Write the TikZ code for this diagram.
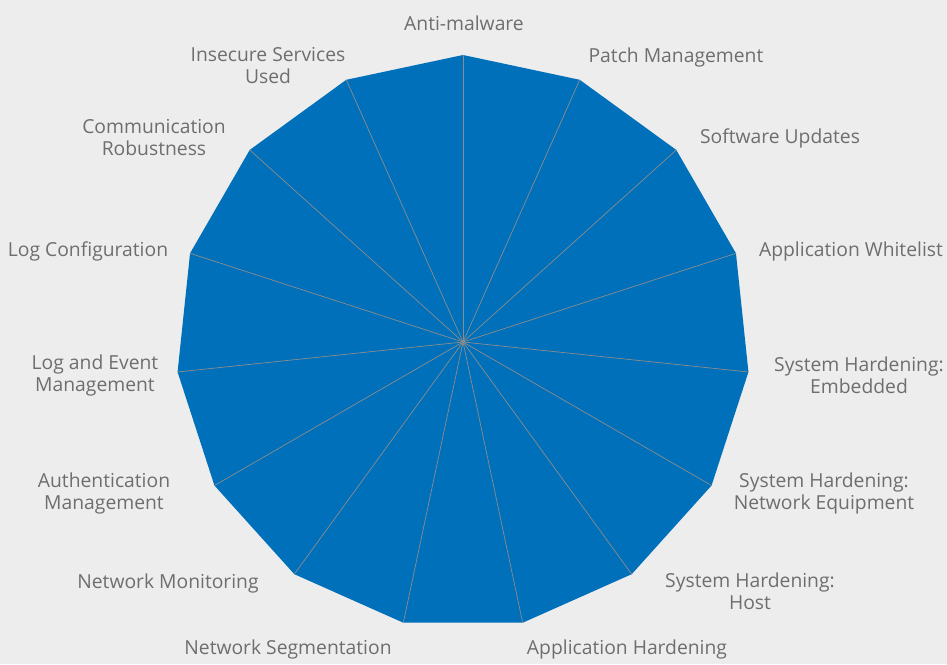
\documentclass[tikz,border=0pt]{standalone}
\usepackage{fontspec}
\setmainfont{Open Sans}
\usetikzlibrary{calc}
\definecolor{bg}{HTML}{EDEDED}
\definecolor{radarblue}{HTML}{0070BA}
\definecolor{labelgrey}{HTML}{6E6E6E}
\definecolor{spokegrey}{HTML}{8C8C8C}
\begin{document}
\begin{tikzpicture}[
  lbl/.style={text=labelgrey, font=\fontsize{19.3}{22}\selectfont, align=center, inner sep=0pt},
  spoke/.style={draw=spokegrey, line width=0.7pt}
]
\fill[bg] (0pt,0pt) rectangle (947pt,664pt);
\useasboundingbox (0pt,0pt) rectangle (947pt,664pt);
\coordinate (c) at (463pt,322pt);
\foreach \k in {0,...,14} {
  \coordinate (v\k) at ($(c)+({90-24*\k}:287pt)$);
}
\fill[radarblue] (v0) -- (v1) -- (v2) -- (v3) -- (v4) -- (v5) -- (v6) -- (v7) -- (v8) -- (v9) -- (v10) -- (v11) -- (v12) -- (v13) -- (v14) -- cycle;
\foreach \k in {0,...,14} {
  \draw[spoke] (c) -- (v\k);
}
\begin{scope}[yshift=-2pt]
\node[lbl] (l0) at (464pt,643pt) {Anti-malware};
\node[lbl] (l1) at (676pt,609pt) {Patch Management};
\node[lbl] (l2) at (780pt,528pt) {Software Updates};
\node[lbl] (l3) at (851pt,415pt) {Application Whitelist};
\node[lbl] (l4) at (859pt,291pt) {System Hardening:\\Embedded};
\node[lbl] (l5) at (824pt,172.5pt) {System Hardening:\\Network Equipment};
\node[lbl] (l6) at (750pt,74.5pt) {System Hardening:\\Host};
\node[lbl] (l7) at (627pt,17pt) {Application Hardening};
\node[lbl] (l8) at (288pt,17pt) {Network Segmentation};
\node[lbl] (l9) at (168pt,83pt) {Network Monitoring};
\node[lbl] (l10) at (104pt,172.5pt) {Authentication\\Management};
\node[lbl] (l11) at (95pt,291pt) {Log and Event\\Management};
\node[lbl] (l12) at (88pt,415pt) {Log Configuration};
\node[lbl] (l13) at (154pt,528pt) {Communication\\Robustness};
\node[lbl] (l14) at (268pt,600.5pt) {Insecure Services\\Used};
\end{scope}
\end{tikzpicture}
\end{document}
